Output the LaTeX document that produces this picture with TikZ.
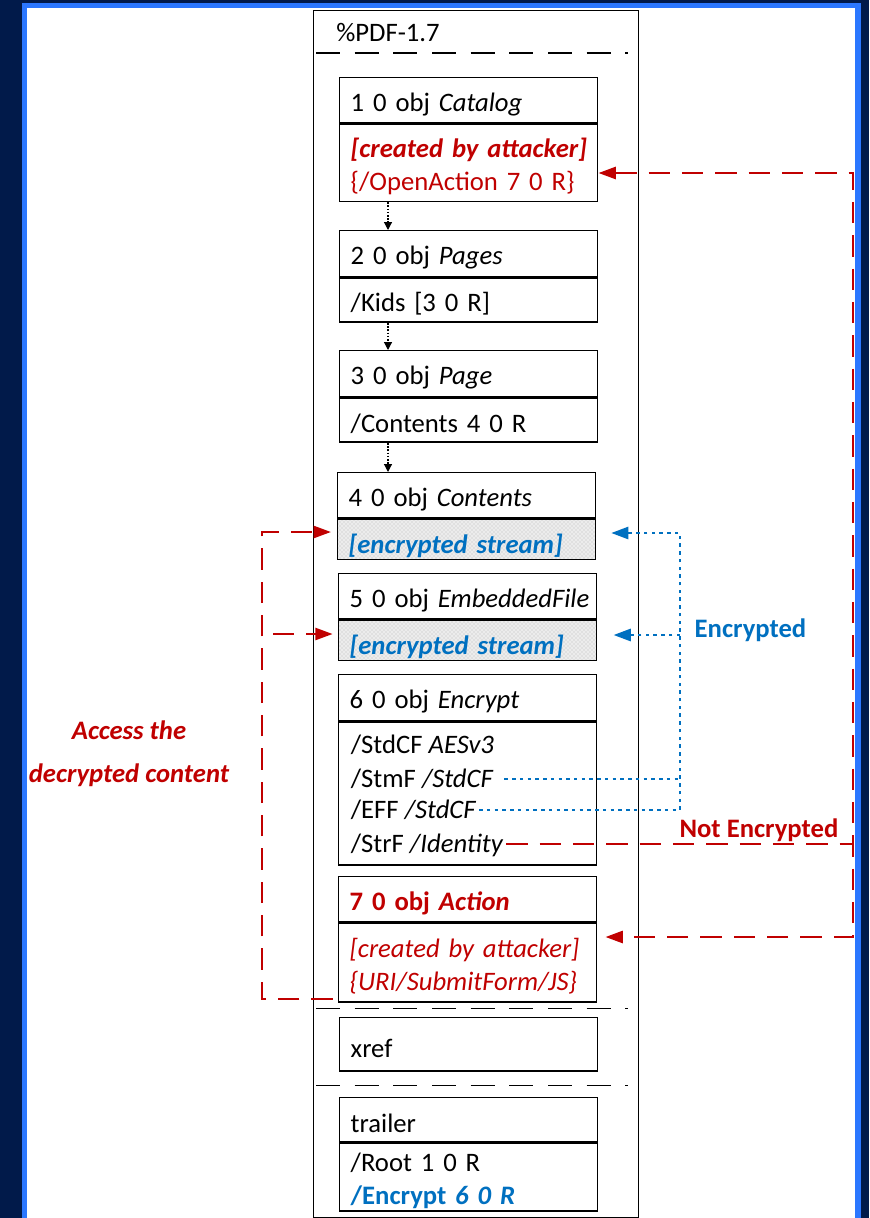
\documentclass[tikz,border=0pt]{standalone}
\usepackage{fontspec}
\setmainfont{Carlito}
\usetikzlibrary{arrows.meta,patterns}
\definecolor{attackred}{HTML}{C00000}
\definecolor{encblue}{HTML}{0070C0}
\definecolor{slidenavy}{HTML}{011A4A}
\definecolor{slideblue}{HTML}{2B77FF}
\begin{document}
\begin{tikzpicture}[x=0.75pt, y=-0.75pt, font=\fontsize{20pt}{24.75pt}\selectfont,
	obj/.style={draw, line width=1.1pt, anchor=north west, text width=189.5pt, inner xsep=2pt, inner ysep=0pt, execute at begin node={\raggedright\leftskip=6.25pt\hyphenpenalty=10000\relax\rule{0pt}{20pt}}},
	stream/.style={obj, preaction={fill=gray!15}, pattern=crosshatch dots, pattern color=gray!55, text=encblue, execute at begin node={\rule{0pt}{24.5pt}}},
	entry/.style={anchor=base west, inner xsep=2pt, inner ysep=0pt, text height=14pt, text depth=2pt},
	flow/.style={line width=0.9pt, dash pattern=on 1.2pt off 1.2pt, -{Triangle[length=6pt, width=6pt]}},
	attack/.style={attackred, line width=1.9pt, dash pattern=on 16pt off 9pt},
	plain/.style={encblue, line width=2.2pt, dash pattern=on 2.6pt off 3.2pt},
	tip/.style={-{Triangle[length=13pt, width=9pt]}},
	section/.style={line width=0.75pt, dash pattern=on 18pt off 11pt}]
%	\draw[help lines] (0,0) grid[step=50] (869,1218);
	\useasboundingbox (0,0) rectangle (869,1218);
	\fill[slidenavy] (0,0) rectangle (869,1218);
	\fill[slideblue] (22,3) rectangle (861,1218);
	\fill[white] (27,8) rectangle (855,1218);
	\node[draw, line width=1.1pt, anchor=north west, minimum width=243.75pt, minimum height=905.6pt, inner sep=0pt] (pdf-file) at (313,9.5) {};
	\node[anchor=base west, inner sep=0pt] (pdf-header) at (336,41) {\%PDF-1.7};
	\draw[section, line width=1.5pt] (316,53) -- (628,53);
	\node[obj, minimum height=34pt] (catalog) at (339,77) {1 0 obj \textit{Catalog}};
	\node[obj, minimum height=57.75pt, text=attackred] (catalog-body) at (catalog.south west) {\textbf{\textit{[created by attacker]}}\\\{/OpenAction 7 0 R\}};
	\node[obj, minimum height=34.5pt] (pages) at (339,230) {2 0 obj \textit{Pages}};
	\node[obj, minimum height=33pt] (pages-body) at (pages.south west) {/Kids [3 0 R]};
	\node[obj, minimum height=34.5pt] (page) at (339,350) {3 0 obj \textit{Page}};
	\node[obj, minimum height=33pt] (page-body) at (page.south west) {/Contents 4 0 R};
	\node[obj, minimum height=34pt] (contents) at (337,472) {4 0 obj \textit{Contents}};
	\node[stream, minimum height=30pt] (contents-body) at (contents.south west) {\textbf{\textit{[encrypted stream]}}};
	\node[obj, minimum height=34pt] (embedded) at (338,573) {5 0 obj \textit{EmbeddedFile}};
	\node[stream, minimum height=30pt] (embedded-body) at (embedded.south west) {\textbf{\textit{[encrypted stream]}}};
	\node[obj, minimum height=34.5pt] (encrypt) at (338,674) {6 0 obj \textit{Encrypt}};
	\node[obj, minimum height=107pt] (encrypt-body) at (encrypt.south west) {};
	\node[entry] (stdcf) at (348,753) {/StdCF \textit{AESv3}};
	\node[entry] (stmf) at (348,787) {/StmF \textit{/StdCF}};
	\node[entry] (eff) at (348,818) {/EFF \textit{/StdCF}};
	\node[entry] (strf) at (348,852) {/StrF \textit{/Identity}};
	\node[obj, minimum height=34pt, text=attackred] (action) at (338,876) {\textbf{7 0 obj \textit{Action}}};
	\node[obj, minimum height=59pt, text=attackred] (action-body) at (action.south west) {\textit{[created by attacker]}\\\textit{\{URI/SubmitForm/JS\}}};
	\draw[section] (316,1008) -- (628,1008);
	\node[obj, minimum height=40pt] (xref) at (339,1017) {xref};
	\draw[section] (316,1085) -- (628,1085);
	\node[obj, minimum height=33pt] (trailer) at (339,1097) {trailer};
	\node[obj, minimum height=51pt] (trailer-body) at (trailer.south west) {/Root 1 0 R\\\textcolor{encblue}{\textbf{/Encrypt \textit{6 0 R}}}};
	\draw[flow] ([xshift=36.75pt]catalog-body.south west) -- ([xshift=36.75pt]pages.north west);
	\draw[flow] ([xshift=36.75pt]pages-body.south west) -- ([xshift=36.75pt]page.north west);
	\draw[flow] ([xshift=36.75pt]page-body.south west) -- ([xshift=38.25pt]contents.north west);
	\coordinate (open-turn) at (853,173);
	\coordinate (action-turn) at (853,937);
	\draw[attack, {Triangle[length=13pt, width=9pt]}-{Triangle[length=13pt, width=9pt]}, shorten >=6pt] (catalog-body.east |- open-turn) -| (action-turn) -- (action-body.east |- action-turn);
	\draw[attack] (strf.east) -- (strf.east -| action-turn);
	\node[anchor=base east, text=attackred] (not-enc-label) at (843,837) {\textbf{Not Encrypted}};
	\coordinate (enc-top) at (680,533);
	\coordinate (enc-mid) at (680,635);
	\draw[plain, tip, shorten >=11pt] (eff.east) -| (enc-top) -- (contents-body.east |- enc-top);
	\draw[plain, shorten <=6pt] (stmf.east) -- (stmf.east -| enc-top);
	\draw[plain, tip, shorten >=12pt] (enc-mid) -- (embedded-body.east |- enc-mid);
	\node[anchor=base west, text=encblue] (enc-label) at (690,637) {\textbf{Encrypted}};
	\coordinate (access-top) at (262,532);
	\coordinate (access-mid) at (273,634);
	\coordinate (access-bottom) at (262,999);
	\draw[attack, tip, shorten <=4pt, shorten >=4.5pt] (action-body.west |- access-bottom) -| (access-top) -- (contents-body.west |- access-top);
	\draw[attack, tip, shorten >=4pt] (access-mid) -- (embedded-body.west |- access-mid);
	\node[text=attackred, align=center, font=\fontsize{20pt}{32pt}\selectfont\bfseries\itshape] (access-label) at (129,754) {Access the\\decrypted content};
\end{tikzpicture}
\end{document}
